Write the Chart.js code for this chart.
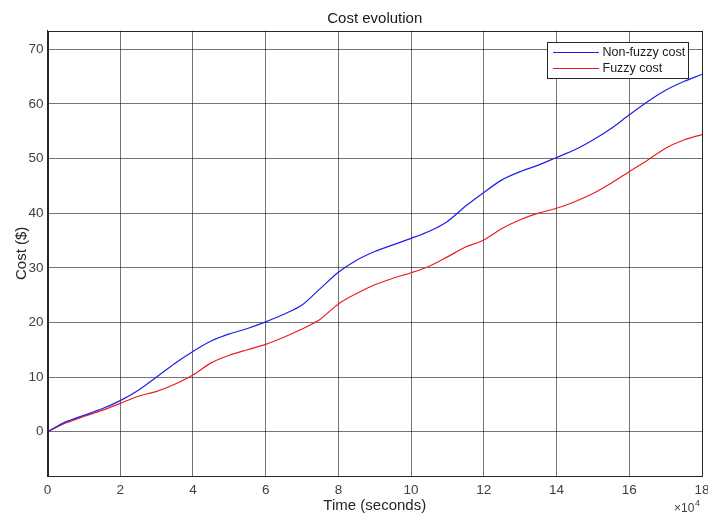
<!DOCTYPE html>
<html>
<head>
<meta charset="utf-8">
<script src="https://cdn.jsdelivr.net/npm/chart.js@4.4.1/dist/chart.umd.min.js"></script>
<style>
  html, body { margin: 0; padding: 0; background: #ffffff; }
  #wrap { width: 708px; height: 516px; position: relative; }
</style>
</head>
<body>
<div id="wrap"><canvas id="c" width="708" height="516"></canvas></div>
<script>
// ---- data (time in units of 10^4 seconds) ----
const timeValues = [0,0.5,1,1.5,2,2.5,3,3.5,4,4.5,5,5.5,6,6.5,7,7.5,8,8.5,9,9.5,10,10.5,11,11.5,12,12.5,13,13.5,14,14.5,15,15.5,16,16.5,17,17.5,18];
const nonFuzzyCost = [0,1.8,3.0,4.2,5.7,7.6,10.0,12.5,14.7,16.6,17.9,18.9,20.1,21.5,23.2,26.2,29.2,31.4,33.0,34.2,35.4,36.7,38.5,41.3,43.8,46.1,47.6,48.8,50.2,51.6,53.4,55.5,58.0,60.4,62.5,64.1,65.4];
const fuzzyCost = [0,1.6,2.8,3.9,5.2,6.5,7.4,8.7,10.4,12.6,14.0,15.0,16.0,17.3,18.8,20.6,23.4,25.3,26.9,28.1,29.1,30.3,32.0,33.8,35.1,37.2,38.8,40.0,40.9,42.1,43.6,45.5,47.6,49.7,51.9,53.4,54.4];
const xTickLabels = [0,2,4,6,8,10,12,14,16,18];
const yTickLabels = [0,10,20,30,40,50,60,70];
const seriesNames = ["Non-fuzzy cost", "Fuzzy cost"];
const seriesColors = ["rgb(30,30,235)", "rgb(235,30,30)"];
const titleText = "Cost evolution";
const xLabelText = "Time (seconds)";
const yLabelText = "Cost ($)";

const FONT = "'Liberation Sans', Arial, Helvetica, sans-serif";

function toPoints(xs, ys) { return xs.map((x, i) => ({ x: x, y: ys[i] })); }

const decorPlugin = {
  id: 'decor',
  afterDraw(chart) {
    const ctx = chart.ctx;
    const a = chart.chartArea;
    ctx.save();
    // box
    ctx.strokeStyle = '#262626';
    ctx.lineWidth = 1;
    ctx.strokeRect(Math.round(a.left) + 0.5, Math.round(a.top) + 0.5, Math.round(a.right - a.left) - 1, Math.round(a.bottom - a.top));
    // title
    ctx.fillStyle = '#1a1a1a';
    ctx.font = '15px ' + FONT;
    ctx.textAlign = 'center';
    ctx.textBaseline = 'middle';
    ctx.fillText(titleText, (a.left + a.right) / 2, 19);
    // x label
    ctx.fillStyle = '#262626';
    ctx.fillText(xLabelText, (a.left + a.right) / 2, 506);
    // y label
    ctx.save();
    ctx.translate(22, (a.top + a.bottom) / 2);
    ctx.rotate(-Math.PI / 2);
    ctx.fillText(yLabelText, 0, 0);
    ctx.restore();
    // x10^4
    ctx.fillStyle = '#404040';
    ctx.textAlign = 'left';
    ctx.textBaseline = 'alphabetic';
    ctx.font = '12px ' + FONT;
    ctx.fillText('\u00d710', 674, 512);
    ctx.font = '9px ' + FONT;
    ctx.fillText('4', 695, 506);
    // legend
    const lx = 547.5, ly = 42.5, lw = 141, lh = 36;
    ctx.fillStyle = '#ffffff';
    ctx.fillRect(lx, ly, lw, lh);
    ctx.strokeStyle = '#262626';
    ctx.strokeRect(lx, ly, lw, lh);
    ctx.font = '12.5px ' + FONT;
    ctx.textBaseline = 'middle';
    for (let i = 0; i < seriesNames.length; i++) {
      const yy = 52.5 + i * 16;
      ctx.strokeStyle = seriesColors[i];
      ctx.lineWidth = 1;
      ctx.beginPath();
      ctx.moveTo(553, yy);
      ctx.lineTo(599, yy);
      ctx.stroke();
      ctx.fillStyle = '#1a1a1a';
      ctx.fillText(seriesNames[i], 602.5, yy);
    }
    ctx.restore();
  }
};

new Chart(document.getElementById('c'), {
  type: 'line',
  data: {
    datasets: [
      { label: seriesNames[0], data: toPoints(timeValues, nonFuzzyCost), borderColor: seriesColors[0], borderWidth: 1.2, pointRadius: 0, tension: 0.3, fill: false },
      { label: seriesNames[1], data: toPoints(timeValues, fuzzyCost), borderColor: seriesColors[1], borderWidth: 1.2, pointRadius: 0, tension: 0.3, fill: false }
    ]
  },
  options: {
    responsive: false,
    animation: false,
    devicePixelRatio: 1,
    layout: { padding: { top: 30.7, right: 6, left: 0, bottom: 0 } },
    plugins: { legend: { display: false }, title: { display: false }, tooltip: { enabled: false } },
    scales: {
      x: {
        type: 'linear',
        min: 0, max: 18,
        afterFit(s) { s.height = 40; s.paddingLeft = 0; s.paddingRight = 0; },
        afterBuildTicks(s) { s.ticks = xTickLabels.map(v => ({ value: v })); },
        grid: { color: 'rgba(0,0,0,0.55)', lineWidth: 1, drawTicks: false },
        border: { display: true, color: '#262626' },
        ticks: { padding: 6, color: '#404040', font: { family: FONT, size: 13.5 }, maxRotation: 0, autoSkip: false }
      },
      y: {
        type: 'linear',
        min: -8.1, max: 73.4,
        afterFit(s) { s.width = 47.5; s.paddingTop = 0; s.paddingBottom = 0; },
        afterBuildTicks(s) { s.ticks = yTickLabels.map(v => ({ value: v })); },
        grid: { color: 'rgba(0,0,0,0.55)', lineWidth: 1, drawTicks: false },
        border: { display: true, color: '#262626' },
        ticks: { padding: 4, color: '#404040', font: { family: FONT, size: 13.5 }, autoSkip: false }
      }
    }
  },
  plugins: [decorPlugin]
});
</script>
</body>
</html>
